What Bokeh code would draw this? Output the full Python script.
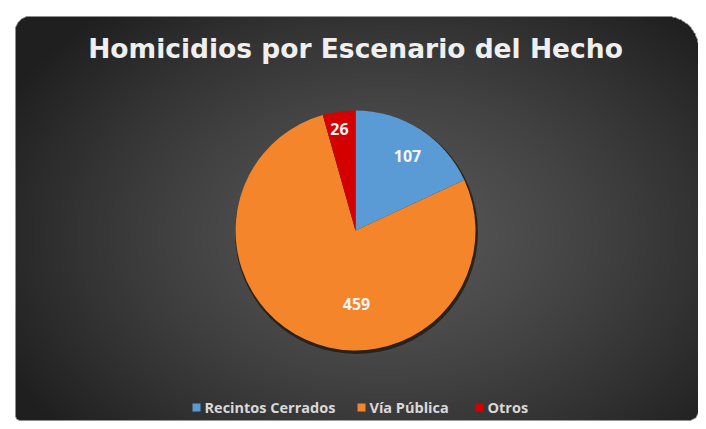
import numpy as np
from bokeh.plotting import figure
from bokeh.models import Range1d
from bokeh.core.properties import value
from bokeh.embed import file_html
from bokeh.resources import INLINE

# ---- data ----
categories = ["Recintos Cerrados", "Vía Pública", "Otros"]
counts = [107, 459, 26]
colors = ["#5B9BD5", "#F5852A", "#D40000"]
title_text = "Homicidios por Escenario del Hecho"

W, H = 698, 421

p = figure(width=W, height=H, output_backend="svg", toolbar_location=None,
           x_range=Range1d(0, W), y_range=Range1d(0, H), min_border=0)
p.axis.visible = False
p.grid.visible = False
p.outline_line_color = None
p.border_fill_color = "white"
p.background_fill_color = "white"

def Y(wy):
    return H - wy  # picture y (from top) -> data y

# ---- background panel (radial gradient, rounded corners) ----
xs = np.arange(W) + 0.5
ys = np.arange(H) + 0.5
XX, YY = np.meshgrid(xs, ys)
cx, cy = 385.0, 235.0
d = np.sqrt(((XX - cx) / 430.0) ** 2 + ((YY - cy) / 300.0) ** 2)
d = np.clip(d, 0, 1)
c_in = np.array([0x58, 0x58, 0x58], float)
c_out = np.array([0x1f, 0x1f, 0x1f], float)
t = d ** 1.3
rgb = c_in[None, None, :] * (1 - t[..., None]) + c_out[None, None, :] * t[..., None]

L, T, R, B = 15.0, 16.0, 698.0, 420.0
mask = (XX >= L) & (XX <= R) & (YY >= T) & (YY <= B)
def corner(cxr, cyr, rad, sel):
    return sel & (((XX - cxr) ** 2 + (YY - cyr) ** 2) > rad ** 2)
r1 = 14
mask &= ~corner(L + r1, T + r1, r1, (XX < L + r1) & (YY < T + r1))
r2 = 32
mask &= ~corner(R - r2, T + r2, r2, (XX > R - r2) & (YY < T + r2))
r3 = 10
mask &= ~corner(R - r3, B - r3, r3, (XX > R - r3) & (YY > B - r3))
r4 = 5
mask &= ~corner(L + r4, B - r4, r4, (XX < L + r4) & (YY > B - r4))

img = np.zeros((H, W), dtype=np.uint32)
view = img.view(dtype=np.uint8).reshape((H, W, 4))
for k in range(3):
    view[..., k] = np.where(mask, rgb[..., k], 255).astype(np.uint8)
view[..., 3] = 255
img = img[::-1]  # first row at bottom
p.image_rgba(image=[img], x=0, y=0, dw=W, dh=H)

# ---- title ----
p.text(x=[355], y=[Y(48)], text=[title_text], text_color="#efefef",
       text_font=value("DejaVu Sans"), text_font_style="bold", text_font_size="26.5px",
       text_align="center", text_baseline="middle")

# ---- pie ----
pcx, pcy, rad = 355, Y(230), 120
total = float(sum(counts))
fracs = np.array(counts) / total
ends = np.cumsum(fracs)
starts = ends - fracs
start_ang = np.pi / 2 - 2 * np.pi * starts
end_ang = np.pi / 2 - 2 * np.pi * ends

# shadow
p.circle(x=[pcx + 1], y=[pcy - 2], radius=rad + 1.5, fill_color="#1a1208",
         fill_alpha=0.7, line_color=None)
p.wedge(x=pcx, y=pcy, radius=rad, start_angle=start_ang, end_angle=end_ang,
        direction="clock", fill_color=colors, line_color=None)

# labels
label_offsets = [(52, -75), (1, 73), (-16, -102)]  # px relative to centre
lx = [pcx + o[0] for o in label_offsets]
ly = [pcy - o[1] for o in label_offsets]
p.text(x=lx, y=ly, text=[str(c) for c in counts], text_color="#f5f5f5",
       text_font=value("Open Sans"), text_font_style="bold", text_font_size="16px",
       text_align="center", text_baseline="middle")

# ---- legend ----
leg_x = [196, 361, 479]
leg_y = Y(407)
p.scatter(x=leg_x, y=[leg_y] * 3, marker="square", size=8, fill_color=colors,
          line_color=None)
p.text(x=[x + 8 for x in leg_x], y=[leg_y] * 3, text=categories, text_color="#d9d9d9",
       text_font=value("Open Sans"), text_font_style="bold", text_font_size="14.5px",
       text_align="left", text_baseline="middle")

open("out.html", "w").write(file_html(p, INLINE))
